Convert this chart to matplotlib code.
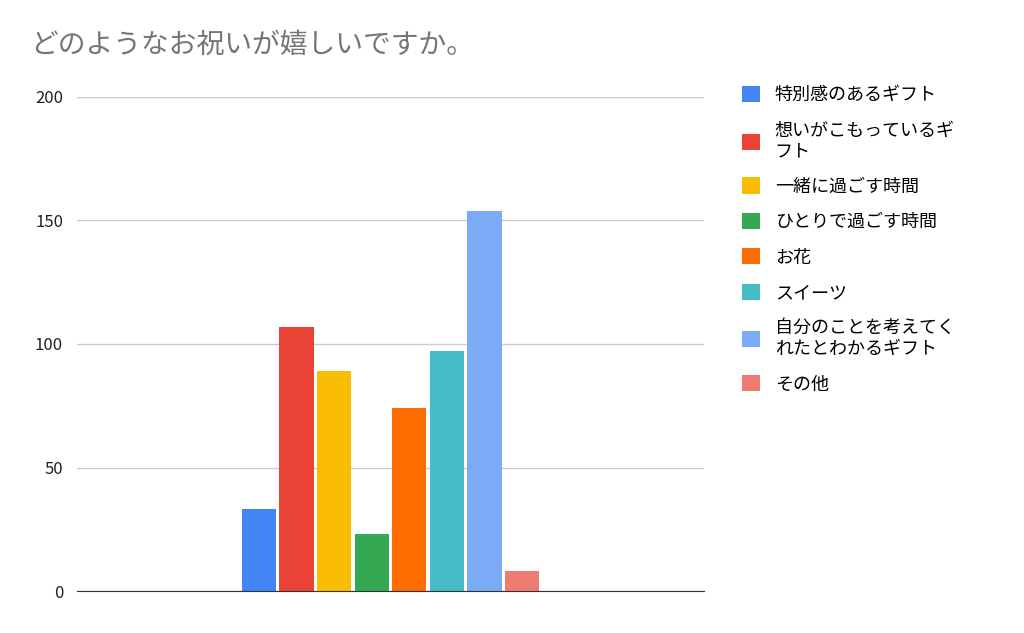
import matplotlib
matplotlib.use("Agg")
import matplotlib.pyplot as plt
import numpy as np

plt.rcParams["font.family"] = ["Noto Sans CJK JP"]

title = "どのようなお祝いが嬉しいですか。"
series = ["特別感のあるギフト", "想いがこもっているギ\nフト", "一緒に過ごす時間", "ひとりで過ごす時間",
          "お花", "スイーツ", "自分のことを考えてく\nれたとわかるギフト", "その他"]
values = [33, 107, 89, 23, 74, 97, 154, 8]
colors = ["#4285f4", "#ea4335", "#fbbc04", "#34a853", "#ff6d01", "#46bdc6", "#7baaf7", "#f07b72"]
yticks = [0, 50, 100, 150, 200]

fig = plt.figure(figsize=(10.24, 6.33), dpi=100)
ax = fig.add_axes([77/1024, 1-591/633, 627/1024, 494/633])
n = len(values)
pitch = 0.0600
w = 0.0545
for i, (s, v, c) in enumerate(zip(series, values, colors)):
    ax.bar(0.5 + (i - (n-1)/2)*pitch, v, width=w, color=c, label=s)
ax.set_xlim(0, 1)
ax.set_ylim(0, 200)
ax.set_yticks(yticks)
ax.set_xticks([])
ax.grid(axis="y", color="#cccccc", linewidth=1)
ax.set_axisbelow(True)
for sp in ["top", "right", "left"]:
    ax.spines[sp].set_visible(False)
ax.spines["bottom"].set_color("#333333")
ax.tick_params(axis="y", length=0, labelsize=12, pad=10, colors="#222222")
fig.text(30/1024, 1-45/633, title, fontsize=20, color="#757575", va="center")
ax.legend(loc="upper left", bbox_to_anchor=(1.035, 1.055), frameon=False, fontsize=13,
          handlelength=1.0, handleheight=1.0, labelspacing=0.95, handletextpad=0.8)
fig.savefig("out.png")
